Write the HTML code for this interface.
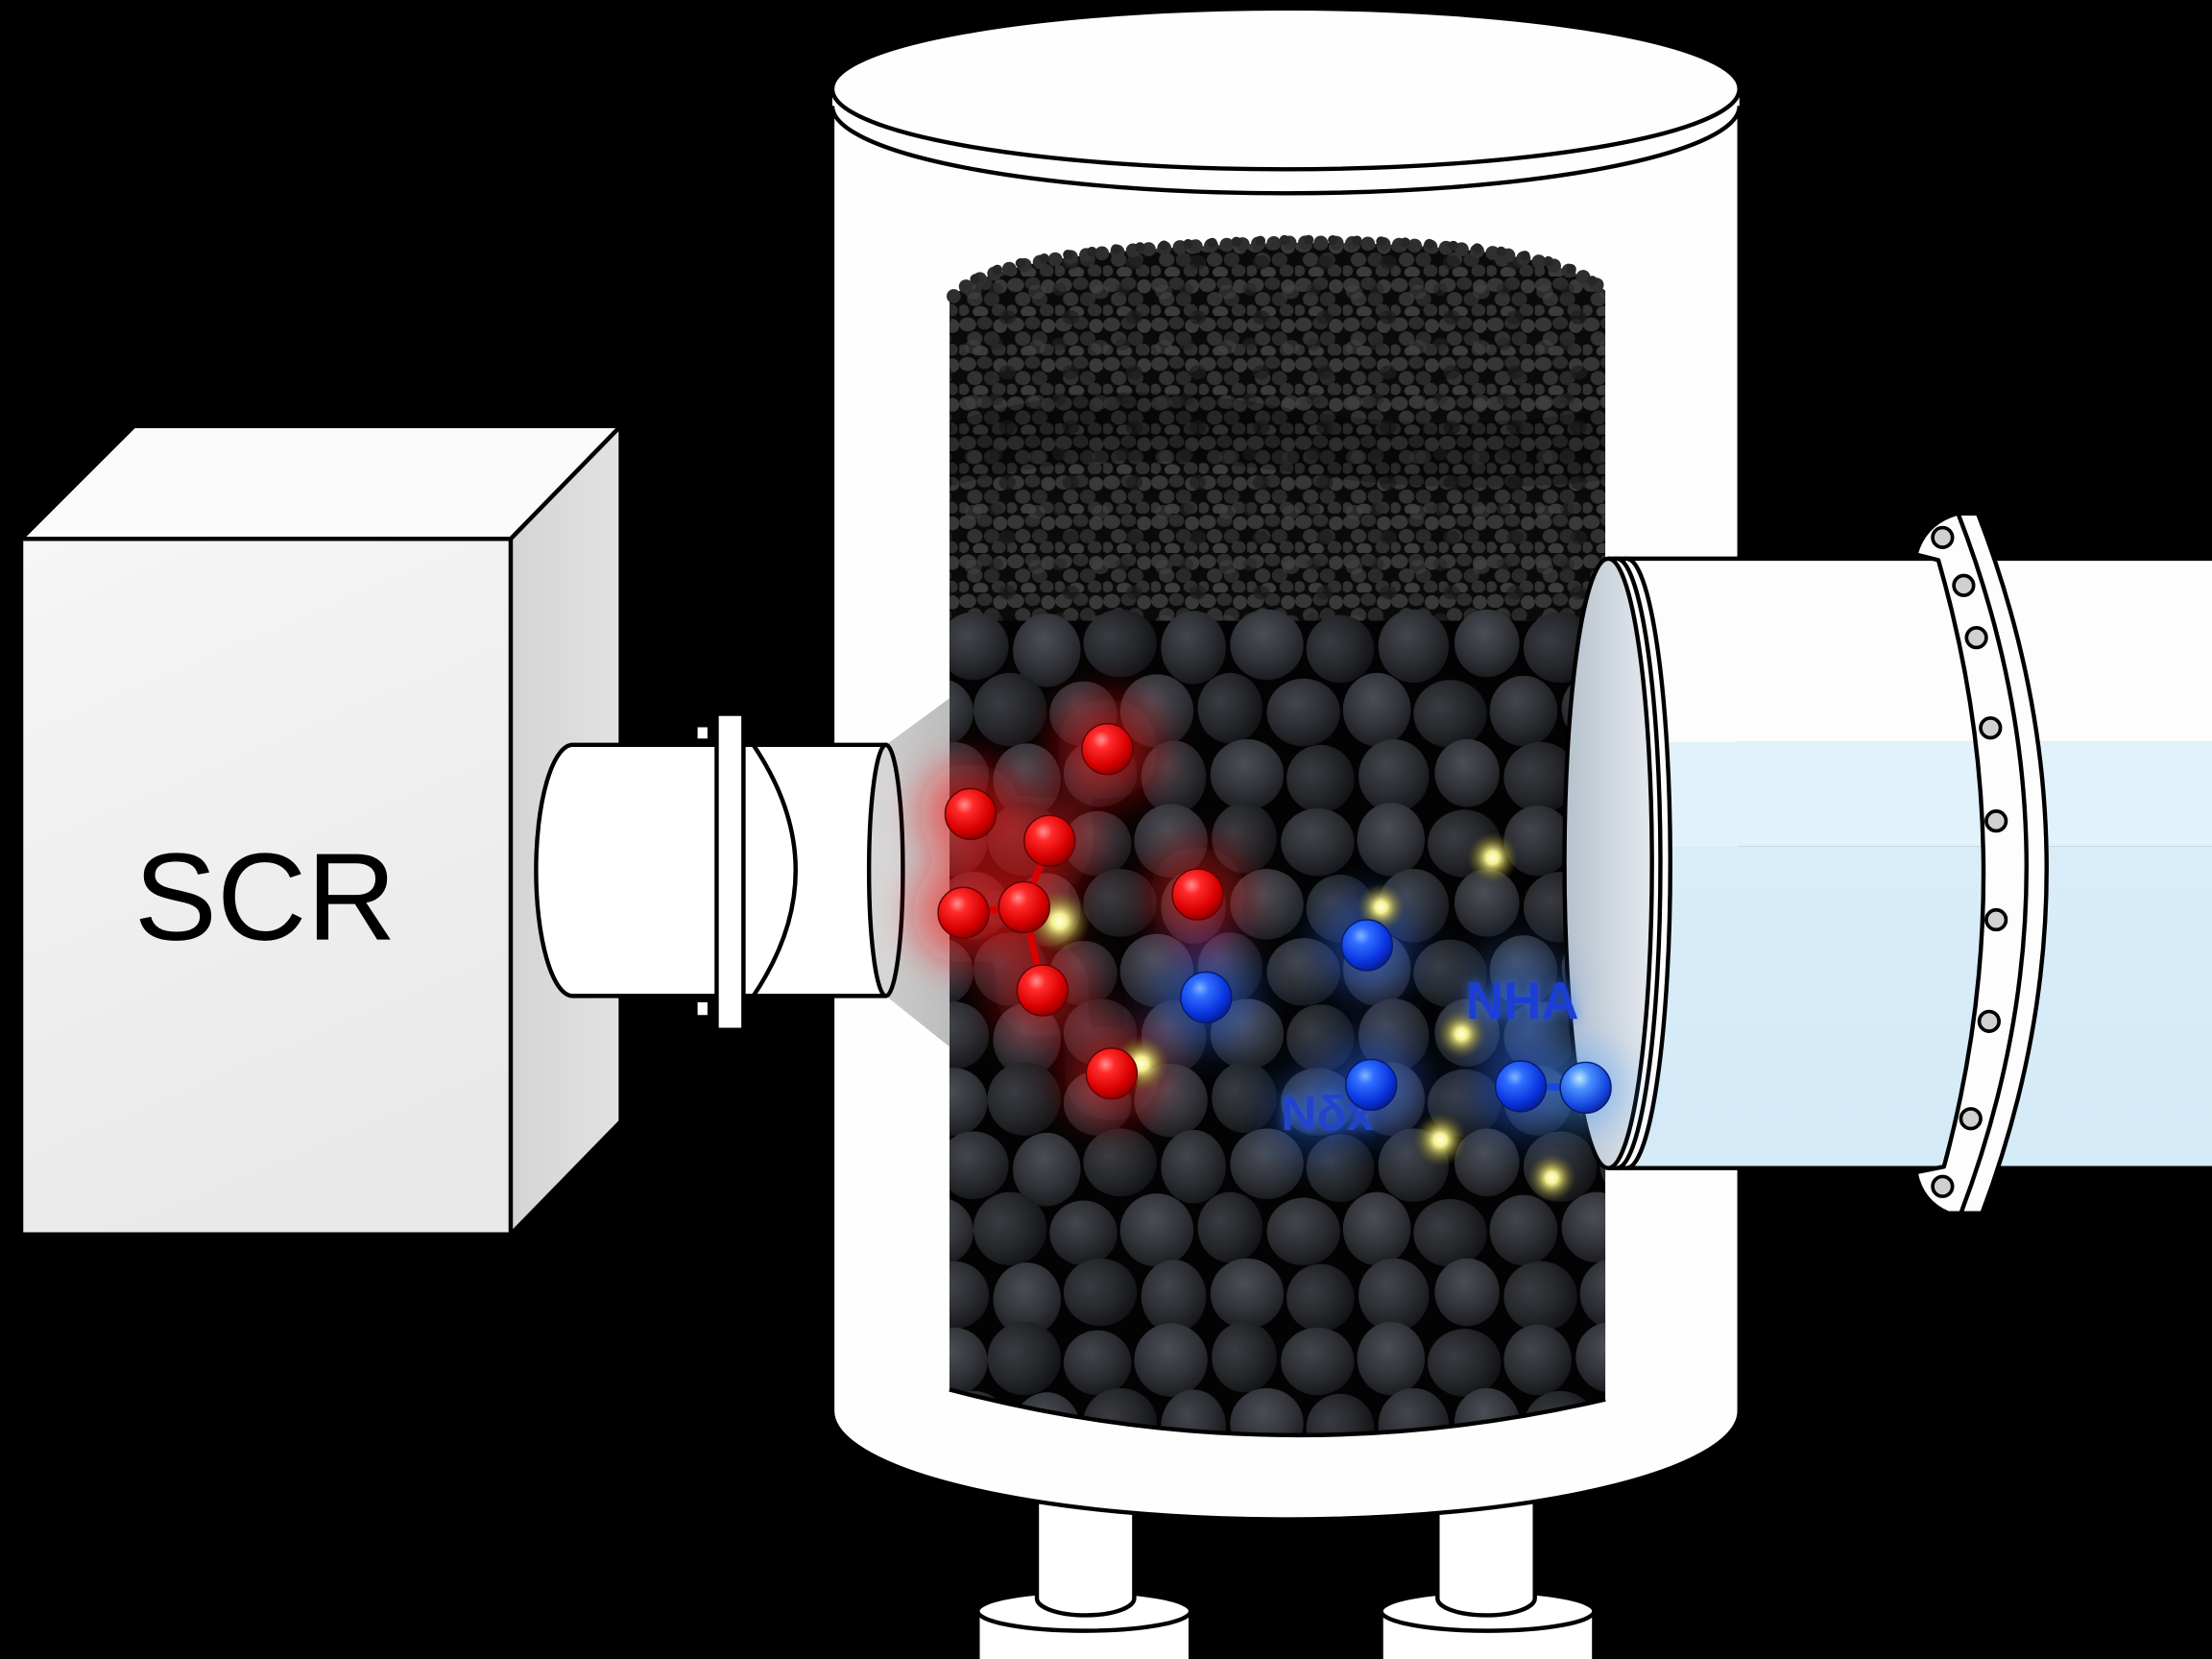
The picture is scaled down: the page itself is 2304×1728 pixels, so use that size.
<!DOCTYPE html>
<html>
<head>
<meta charset="utf-8">
<style>
html,body{margin:0;padding:0;background:#000;}
svg{display:block;}
.p1{fill:url(#pg1);}
.p2{fill:url(#pg2);}
.p3{fill:url(#pg3);}
</style>
</head>
<body>
<svg width="2304" height="1728" viewBox="0 0 1568 1176" xmlns="http://www.w3.org/2000/svg">
<defs>
  <linearGradient id="front" x1="0" y1="0" x2="0.3" y2="1">
    <stop offset="0" stop-color="#f6f6f6"/>
    <stop offset="1" stop-color="#e9e9e9"/>
  </linearGradient>
  <linearGradient id="side" x1="0" y1="0" x2="1" y2="0">
    <stop offset="0" stop-color="#d4d4d4"/>
    <stop offset="1" stop-color="#e2e2e2"/>
  </linearGradient>
  <linearGradient id="cone" x1="0" y1="0" x2="1" y2="0">
    <stop offset="0" stop-color="#c9c9c9"/>
    <stop offset="1" stop-color="#b9b9b9"/>
  </linearGradient>
  <linearGradient id="mouth" x1="0" y1="0" x2="1" y2="0">
    <stop offset="0" stop-color="#b6c1cc"/>
    <stop offset="1" stop-color="#e4e9ee"/>
  </linearGradient>
  <linearGradient id="band2" x1="0" y1="0" x2="0" y2="1">
    <stop offset="0" stop-color="#d9edf9"/>
    <stop offset="1" stop-color="#d4eaf7"/>
  </linearGradient>
  <radialGradient id="pg1" cx="0.4" cy="0.35" r="0.7">
    <stop offset="0" stop-color="#43464c"/>
    <stop offset="0.55" stop-color="#2c2e33"/>
    <stop offset="1" stop-color="#141518"/>
  </radialGradient>
  <radialGradient id="pg2" cx="0.45" cy="0.35" r="0.7">
    <stop offset="0" stop-color="#4b4e55"/>
    <stop offset="0.55" stop-color="#32343a"/>
    <stop offset="1" stop-color="#17181b"/>
  </radialGradient>
  <radialGradient id="pg3" cx="0.35" cy="0.4" r="0.7">
    <stop offset="0" stop-color="#3a3c42"/>
    <stop offset="0.55" stop-color="#25272b"/>
    <stop offset="1" stop-color="#101113"/>
  </radialGradient>
  <radialGradient id="rs" cx="0.38" cy="0.32" r="0.72">
    <stop offset="0" stop-color="#ff9090"/>
    <stop offset="0.25" stop-color="#ff2a2a"/>
    <stop offset="0.7" stop-color="#d80000"/>
    <stop offset="1" stop-color="#880000"/>
  </radialGradient>
  <radialGradient id="bs" cx="0.38" cy="0.32" r="0.72">
    <stop offset="0" stop-color="#80b4ff"/>
    <stop offset="0.25" stop-color="#2f6dff"/>
    <stop offset="0.7" stop-color="#0a35e0"/>
    <stop offset="1" stop-color="#061a90"/>
  </radialGradient>
  <radialGradient id="bs2" cx="0.38" cy="0.32" r="0.72">
    <stop offset="0" stop-color="#c0e8ff"/>
    <stop offset="0.3" stop-color="#4a90ff"/>
    <stop offset="0.75" stop-color="#1648e0"/>
    <stop offset="1" stop-color="#0a2599"/>
  </radialGradient>
  <radialGradient id="yg" cx="0.5" cy="0.5" r="0.5">
    <stop offset="0" stop-color="#ffffe0"/>
    <stop offset="0.25" stop-color="#f4f090"/>
    <stop offset="0.6" stop-color="#a8a040" stop-opacity="0.55"/>
    <stop offset="1" stop-color="#605a20" stop-opacity="0"/>
  </radialGradient>
  <filter id="b14" x="-100%" y="-100%" width="300%" height="300%"><feGaussianBlur stdDeviation="14"/></filter>
  <filter id="b4" x="-50%" y="-50%" width="200%" height="200%"><feGaussianBlur stdDeviation="4"/></filter>

  <pattern id="small" x="0" y="0" width="34" height="28" patternUnits="userSpaceOnUse">
    <rect width="34" height="28" fill="#0a0a0a"/>
    <ellipse cx="6" cy="6" rx="6" ry="5" fill="#363636"/>
    <ellipse cx="18" cy="5" rx="5.5" ry="4.5" fill="#2c2c2c"/>
    <ellipse cx="29" cy="7" rx="5" ry="5" fill="#393939"/>
    <ellipse cx="11" cy="16" rx="5.5" ry="5" fill="#313131"/>
    <ellipse cx="23" cy="16" rx="5.5" ry="5" fill="#292929"/>
    <ellipse cx="3" cy="24" rx="4" ry="4" fill="#323232"/>
    <ellipse cx="15" cy="25" rx="5.5" ry="4" fill="#3b3b3b"/>
    <ellipse cx="28" cy="24" rx="5" ry="4.5" fill="#2e2e2e"/>
  </pattern>
  <pattern id="small2" x="7" y="3" width="45" height="39" patternUnits="userSpaceOnUse">
    <ellipse cx="8" cy="9" rx="6" ry="5" fill="#444" opacity="0.55"/>
    <ellipse cx="32" cy="27" rx="6" ry="5" fill="#1e1e1e" opacity="0.7"/>
    <ellipse cx="24" cy="7" rx="5" ry="4.5" fill="#242424" opacity="0.6"/>
  </pattern>

  <g id="rA">
    <ellipse class="p1" cx="690" cy="0" rx="25" ry="24"/>
    <ellipse class="p2" cx="742" cy="3" rx="24" ry="26"/>
    <ellipse class="p3" cx="794" cy="-2" rx="26" ry="24"/>
    <ellipse class="p1" cx="846" cy="1" rx="23" ry="26"/>
    <ellipse class="p2" cx="898" cy="-1" rx="26" ry="25"/>
    <ellipse class="p3" cx="950" cy="2" rx="24" ry="24"/>
    <ellipse class="p1" cx="1002" cy="0" rx="25" ry="26"/>
    <ellipse class="p2" cx="1054" cy="-2" rx="23" ry="24"/>
    <ellipse class="p3" cx="1106" cy="1" rx="26" ry="25"/>
    <ellipse class="p1" cx="1158" cy="-1" rx="24" ry="25"/>
  </g>
  <g id="rB">
    <ellipse class="p2" cx="666" cy="1" rx="24" ry="24"/>
    <ellipse class="p3" cx="716" cy="-1" rx="26" ry="26"/>
    <ellipse class="p1" cx="768" cy="2" rx="24" ry="23"/>
    <ellipse class="p2" cx="820" cy="0" rx="26" ry="26"/>
    <ellipse class="p3" cx="872" cy="-2" rx="23" ry="25"/>
    <ellipse class="p1" cx="924" cy="1" rx="26" ry="24"/>
    <ellipse class="p2" cx="976" cy="-1" rx="24" ry="26"/>
    <ellipse class="p3" cx="1028" cy="2" rx="26" ry="24"/>
    <ellipse class="p1" cx="1080" cy="0" rx="24" ry="25"/>
    <ellipse class="p2" cx="1132" cy="-2" rx="25" ry="25"/>
  </g>
  <clipPath id="win"><path d="M673,212 C700,186 770,176 916,172 C1050,172 1110,184 1138,206 L1138,992 Q906,1046 673,985 Z"/></clipPath>
</defs>

<rect x="0" y="0" width="1568" height="1176" fill="#000"/>

<!-- SCR box -->
<g stroke="#000" stroke-width="3" stroke-linejoin="round">
  <polygon points="15,382 95,302 440,302 362,382" fill="#fbfbfb"/>
  <polygon points="362,382 440,302 440,795 362,875" fill="url(#side)"/>
  <polygon points="15,382 362,382 362,875 15,875" fill="url(#front)"/>
</g>
<text x="188" y="666" text-anchor="middle" font-family="Liberation Sans, Arial, sans-serif" font-size="88" fill="#000">SCR</text>

<!-- legs -->
<g stroke="#000" stroke-width="3">
  <rect x="693" y="1142" width="151" height="50" fill="#fff"/>
  <ellipse cx="768.5" cy="1142" rx="75.5" ry="14" fill="#fff"/>
  <path d="M735,1040 L735,1133 A34.5,12 0 0 0 804,1133 L804,1040" fill="#fff"/>
  <rect x="979" y="1142" width="151" height="50" fill="#fff"/>
  <ellipse cx="1054.5" cy="1142" rx="75.5" ry="14" fill="#fff"/>
  <path d="M1019,1040 L1019,1133 A34.5,12 0 0 0 1088,1133 L1088,1040" fill="#fff"/>
</g>

<!-- vessel body -->
<path d="M590,72 L590,1000 A321.5,77 0 0 0 1233,1000 L1233,72 Z" fill="#fefefe" stroke="#000" stroke-width="3"/>
<!-- top cap -->
<path d="M590,63 L590,75 A321.5,62 0 0 0 1233,75 L1233,63 Z" fill="#fefefe"/>
<path d="M590,75 A321.5,62 0 0 0 1233,75" fill="none" stroke="#000" stroke-width="3"/>
<ellipse cx="911.5" cy="63" rx="321.5" ry="57" fill="#fefefe" stroke="#000" stroke-width="3"/>

<!-- bed window -->
<g clip-path="url(#win)">
  <rect x="660" y="150" width="500" height="320" fill="url(#small)"/>
  <rect x="660" y="150" width="500" height="320" fill="url(#small2)"/>
  <path d="M673,300 C760,270 840,275 916,290 C1000,305 1080,300 1138,290 L1138,340 C1060,350 980,345 916,335 C840,325 760,320 673,345 Z" fill="#000" opacity="0.22"/>
  <rect x="660" y="440" width="500" height="620" fill="#030303"/>
  <use href="#rA" transform="translate(0,458)"/>
  <use href="#rB" transform="translate(0,504)"/>
  <use href="#rA" transform="translate(-14,550)"/>
  <use href="#rB" transform="translate(10,596)"/>
  <use href="#rA" transform="translate(0,642)"/>
  <use href="#rB" transform="translate(0,688)"/>
  <use href="#rA" transform="translate(-14,734)"/>
  <use href="#rB" transform="translate(10,780)"/>
  <use href="#rA" transform="translate(0,826)"/>
  <use href="#rB" transform="translate(0,872)"/>
  <use href="#rA" transform="translate(-14,918)"/>
  <use href="#rB" transform="translate(10,964)"/>
  <use href="#rA" transform="translate(0,1010)"/>
  <use href="#rB" transform="translate(0,1056)"/>
</g>
<!-- bumpy top edge -->
<path d="M676,210 C700,186 770,176 916,172 C1050,172 1110,184 1136,205" fill="none" stroke="#2f2f2f" stroke-width="10" stroke-linecap="round" stroke-dasharray="0.1 11"/>
<path d="M682,204 C705,184 772,174 916,170 C1048,170 1108,182 1130,200" fill="none" stroke="#262626" stroke-width="7" stroke-linecap="round" stroke-dasharray="0.1 17" stroke-dashoffset="6"/>
<path d="M673,985 Q906,1046 1138,992" fill="none" stroke="#000" stroke-width="3"/>

<!-- gray cone from inlet pipe -->
<polygon points="628,528 673,495 673,742 628,706" fill="url(#cone)" opacity="0.95"/>

<!-- inlet pipe -->
<g stroke="#000" stroke-width="3" stroke-linejoin="round">
  <path d="M406,528 L510,528 L510,706 L406,706 A26,89 0 0 1 406,528 Z" fill="#fff"/>
  <rect x="493" y="514" width="10" height="11" fill="#fff"/>
  <rect x="493" y="709" width="10" height="12" fill="#fff"/>
  <path d="M527,528 L628,528 L628,706 L527,706 Z" fill="#fff"/>
  <path d="M534,528 Q594,617 534,706" fill="none"/>
  <ellipse cx="628" cy="617" rx="12" ry="89" fill="#d6d6d6"/>
  <rect x="508" y="506" width="19" height="224" fill="#fff"/>
</g>

<!-- outlet pipe body -->
<rect x="1150" y="396" width="420" height="130" fill="#fdfdfd"/>
<rect x="1150" y="526" width="420" height="74" fill="#e2f2fb"/>
<rect x="1150" y="600" width="420" height="228" fill="url(#band2)"/>
<line x1="1140" y1="396" x2="1570" y2="396" stroke="#000" stroke-width="3"/>
<line x1="1140" y1="828" x2="1570" y2="828" stroke="#000" stroke-width="3"/>

<!-- flange -->
<g stroke="#000" stroke-width="3" stroke-linejoin="round">
  <path d="M1387,364 L1402,364 Q1498,612 1405,860 L1381,860 Q1362,852 1358,831 L1378,827 Q1436,612 1374,397 L1358,393 Q1364,371 1387,364 Z" fill="#fdfdfd"/>
  <path d="M1388,364 Q1484,612 1390,860" fill="none"/>
</g>
<g fill="#d0d0d0" stroke="#000" stroke-width="2.5">
  <circle cx="1377" cy="381" r="7"/>
  <circle cx="1392" cy="415" r="7"/>
  <circle cx="1401" cy="452" r="7"/>
  <circle cx="1411" cy="516" r="7"/>
  <circle cx="1415" cy="582" r="7"/>
  <circle cx="1415" cy="652" r="7"/>
  <circle cx="1410" cy="724" r="7"/>
  <circle cx="1397" cy="793" r="7"/>
  <circle cx="1377" cy="841" r="7"/>
</g>

<!-- mouth of outlet pipe -->
<g stroke="#000" stroke-width="3">
  <ellipse cx="1153" cy="612" rx="31" ry="216" fill="#fdfdfd"/>
  <ellipse cx="1146" cy="612" rx="31" ry="216" fill="#fdfdfd"/>
  <ellipse cx="1140" cy="612" rx="31" ry="216" fill="url(#mouth)"/>
</g>

<!-- glows -->
<g filter="url(#b14)">
  <circle cx="785" cy="531" r="36" fill="#ff1a1a" opacity="0.5"/>
  <circle cx="688" cy="577" r="36" fill="#ff1a1a" opacity="0.55"/>
  <circle cx="744" cy="596" r="32" fill="#ff1a1a" opacity="0.45"/>
  <circle cx="683" cy="647" r="36" fill="#ff1a1a" opacity="0.55"/>
  <circle cx="726" cy="643" r="32" fill="#ff1a1a" opacity="0.45"/>
  <circle cx="849" cy="634" r="34" fill="#ff1a1a" opacity="0.45"/>
  <circle cx="739" cy="702" r="34" fill="#ff1a1a" opacity="0.45"/>
  <circle cx="788" cy="761" r="34" fill="#ff1a1a" opacity="0.45"/>
  <circle cx="855" cy="707" r="34" fill="#2a6cff" opacity="0.45"/>
  <circle cx="969" cy="670" r="34" fill="#2a6cff" opacity="0.45"/>
  <circle cx="972" cy="769" r="34" fill="#2a6cff" opacity="0.45"/>
  <circle cx="930" cy="790" r="30" fill="#2a6cff" opacity="0.35"/>
  <circle cx="1078" cy="770" r="34" fill="#2a6cff" opacity="0.45"/>
  <circle cx="1124" cy="771" r="30" fill="#4aa0ff" opacity="0.45"/>
  <circle cx="1078" cy="708" r="36" fill="#3a80ff" opacity="0.35"/>
</g>
<g>
  <circle cx="751" cy="653" r="22" fill="url(#yg)"/>
  <circle cx="809" cy="754" r="20" fill="url(#yg)"/>
  <circle cx="979" cy="643" r="17" fill="url(#yg)"/>
  <circle cx="1058" cy="608" r="18" fill="url(#yg)"/>
  <circle cx="1036" cy="733" r="17" fill="url(#yg)"/>
  <circle cx="1021" cy="808" r="19" fill="url(#yg)"/>
  <circle cx="1100" cy="835" r="17" fill="url(#yg)"/>
</g>

<!-- red molecule bonds -->
<g stroke="#d80000" stroke-width="5" stroke-linecap="round">
  <line x1="744" y1="596" x2="726" y2="643"/>
  <line x1="726" y1="643" x2="739" y2="702"/>
  <line x1="683" y1="647" x2="726" y2="643"/>
</g>
<line x1="1078" y1="770" x2="1124" y2="771" stroke="#1848e0" stroke-width="5"/>

<!-- labels -->
<g font-family="Liberation Sans, Arial, sans-serif" font-weight="bold">
  <text x="1039" y="722" font-size="37" fill="#3a7cff" opacity="0.7" filter="url(#b4)">NHA</text>
  <text x="1039" y="722" font-size="37" fill="#1c3ed6">NHA</text>
  <text x="908" y="801" font-size="35" fill="#3a7cff" opacity="0.7" filter="url(#b4)">Nδx</text>
  <text x="908" y="801" font-size="35" fill="#2244cc">Nδx</text>
</g>

<!-- spheres -->
<g stroke="#600" stroke-width="1">
  <circle cx="785" cy="531" r="18" fill="url(#rs)"/>
  <circle cx="688" cy="577" r="18" fill="url(#rs)"/>
  <circle cx="744" cy="596" r="18" fill="url(#rs)"/>
  <circle cx="683" cy="647" r="18" fill="url(#rs)"/>
  <circle cx="726" cy="643" r="18" fill="url(#rs)"/>
  <circle cx="849" cy="634" r="18" fill="url(#rs)"/>
  <circle cx="739" cy="702" r="18" fill="url(#rs)"/>
  <circle cx="788" cy="761" r="18" fill="url(#rs)"/>
</g>
<g stroke="#061a70" stroke-width="1">
  <circle cx="855" cy="707" r="18" fill="url(#bs)"/>
  <circle cx="969" cy="670" r="18" fill="url(#bs)"/>
  <circle cx="972" cy="769" r="18" fill="url(#bs)"/>
  <circle cx="1078" cy="770" r="18" fill="url(#bs)"/>
  <circle cx="1124" cy="771" r="18" fill="url(#bs2)"/>
</g>
</svg>
</body>
</html>
